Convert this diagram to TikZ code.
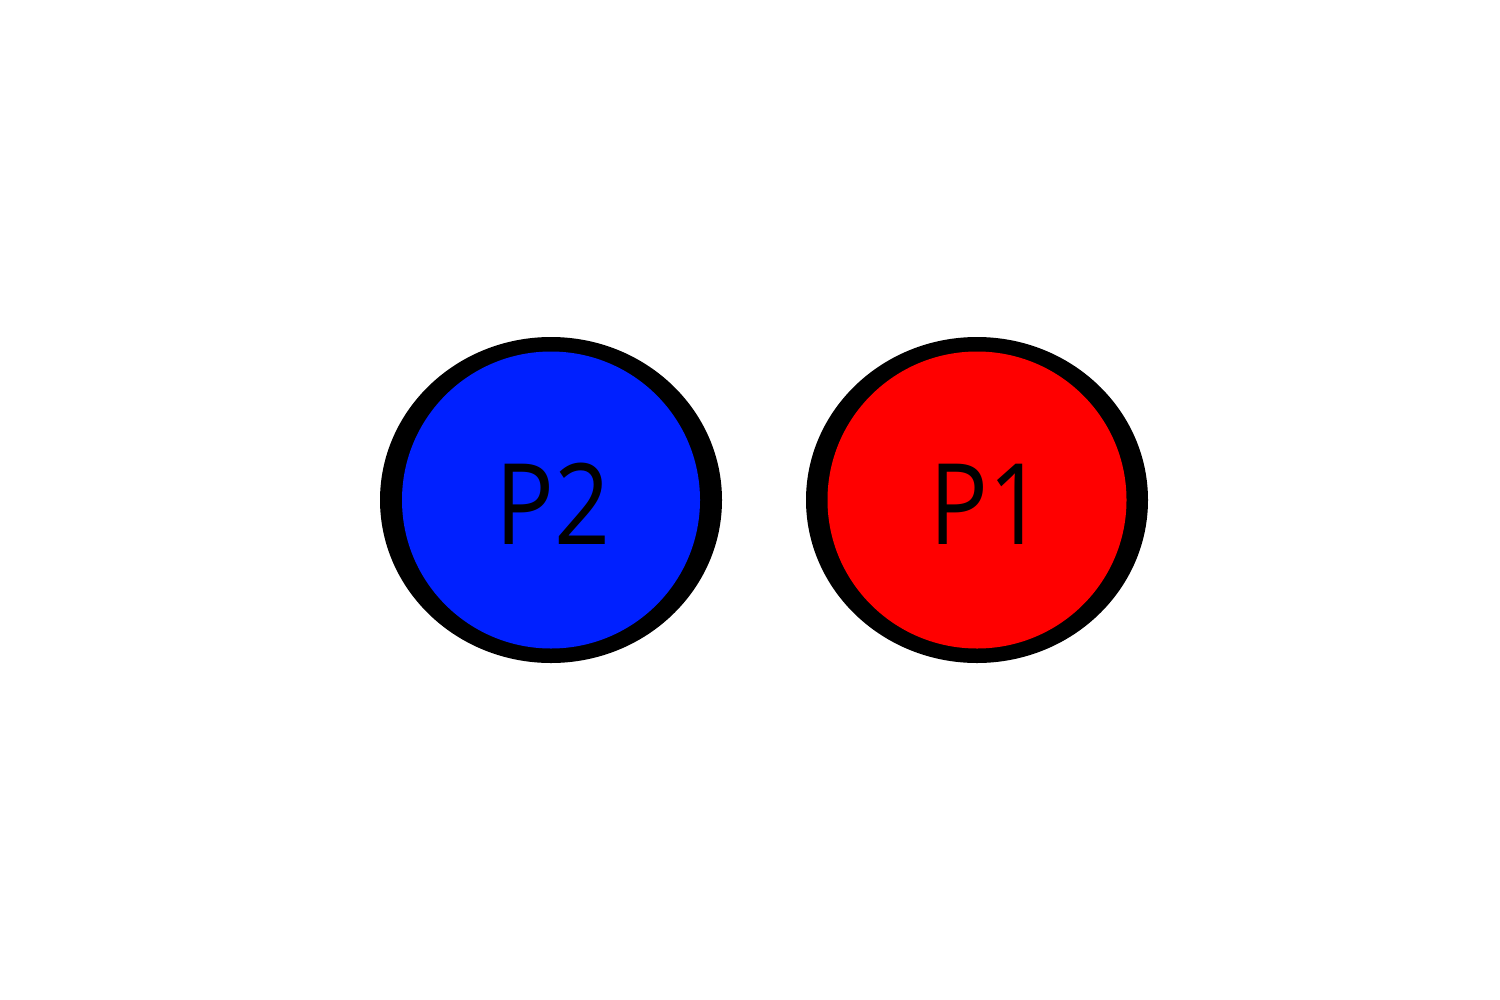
\documentclass[tikz,border=0pt]{standalone}
\usepackage{fontspec}
\setmainfont{Open Sans}
\definecolor{pblue}{HTML}{0020FF}
\definecolor{pred}{HTML}{FF0000}
\begin{document}
\begin{tikzpicture}[x=0.01cm,y=-0.01cm]
\tikzset{
  ringout/.style={fill=black},
  label/.style={font=\fontsize{32}{38}\selectfont, text=black, inner sep=0pt, xscale=0.87}
}
\useasboundingbox (0,0) rectangle (1500,1000);
% P2
\fill[ringout] (551,500) ellipse [x radius=171, y radius=163];
\fill[pblue] (551,500) ellipse [x radius=149, y radius=148.5];
\node[label] (p2) at (553,504) {P2};
% P1
\fill[ringout] (977,500) ellipse [x radius=171, y radius=163];
\fill[pred] (977,500) ellipse [x radius=149.5, y radius=148.5];
\node[label] (p1) at (987,504) {P1};
\end{tikzpicture}
\end{document}
